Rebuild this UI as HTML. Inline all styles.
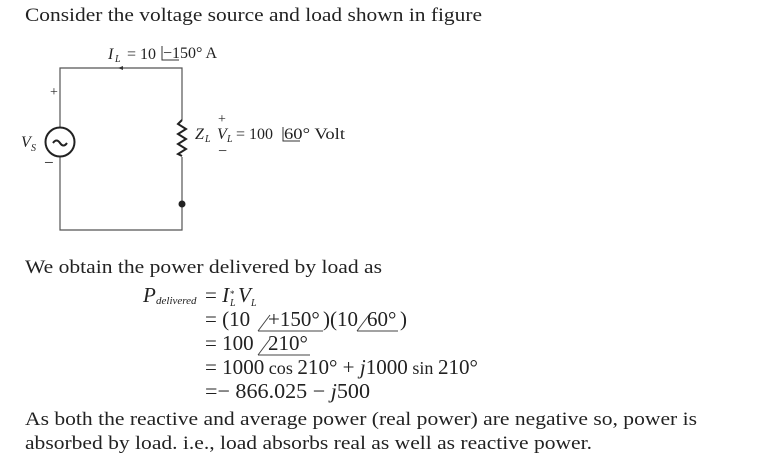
<!DOCTYPE html>
<html><head><meta charset="utf-8"><style>
body{margin:0;background:#fff;width:760px;height:460px;overflow:hidden}
svg{display:block}
text{font-family:"Liberation Serif",serif;fill:#222}
</style></head><body>
<svg width="760" height="460" viewBox="0 0 760 460">
<text x="25" y="21" font-size="19" textLength="457" lengthAdjust="spacingAndGlyphs">Consider the voltage source and load shown in figure</text>
<!-- circuit -->
<g stroke="#555" stroke-width="1.2" fill="none">
<path d="M60 127 V68 H182 V120 M182 157 V230 H60 V157"/>
<circle cx="60" cy="142" r="14.5" stroke="#222" stroke-width="2"/>
<path d="M182 120 l-4 4 l8 5 l-8 5 l8 5 l-8 5 l8 5 l-8 5 l4 2" stroke="#222" stroke-width="2"/>
</g>
<path d="M53 143 q3.5 -5 7 0 t7 0" stroke="#222" stroke-width="2" fill="none"/>
<circle cx="182" cy="204" r="3.5" fill="#222"/>
<path d="M118 68 l5 -2 v4z" fill="#333"/>
<text x="108" y="59" font-size="16" font-style="italic">I</text><text x="115" y="62" font-size="10" font-style="italic">L</text>
<text x="127" y="59" font-size="16">= 10</text>
<path d="M162 46 v14 h17" stroke="#333" fill="none"/>
<text x="163" y="58" font-size="16">−150° A</text>
<text x="50" y="96" font-size="14">+</text>
<text x="21" y="147" font-size="16" font-style="italic">V</text><text x="31" y="151" font-size="10" font-style="italic">S</text>
<text x="44" y="168" font-size="17">−</text>
<text x="218" y="123" font-size="14">+</text>
<text x="195" y="139" font-size="16" font-style="italic">Z</text><text x="205" y="142" font-size="10" font-style="italic">L</text>
<text x="217" y="139" font-size="16" font-style="italic">V</text><text x="227" y="142" font-size="10" font-style="italic">L</text>
<text x="236" y="139" font-size="16">= 100</text>
<path d="M283 127 v14 h17" stroke="#333" fill="none"/>
<text x="284" y="139" font-size="16" textLength="61" lengthAdjust="spacingAndGlyphs">60° Volt</text>
<text x="218" y="156" font-size="16">−</text>
<text x="25" y="273" font-size="19" textLength="357" lengthAdjust="spacingAndGlyphs">We obtain the power delivered by load as</text>
<!-- equations -->
<text x="143" y="302" font-size="21" font-style="italic">P</text>
<text x="156" y="304" font-size="11" font-style="italic">delivered</text>
<text x="205" y="302" font-size="21">= <tspan font-style="italic">I</tspan></text>
<text x="230" y="297" font-size="9">*</text><text x="230" y="306" font-size="10" font-style="italic">L</text>
<text x="238" y="302" font-size="21" font-style="italic">V</text><text x="251" y="306" font-size="10" font-style="italic">L</text>
<path d="M258 331 l12 -16 M258 331 h65 M357 331 l12 -16 M357 331 h41 M258 355 l12 -16 M258 355 h52" stroke="#444" fill="none"/>
<text y="326" font-size="21"><tspan x="205">= (10</tspan><tspan x="268">+150°</tspan><tspan x="323">)(10</tspan><tspan x="367">60°</tspan><tspan x="400">)</tspan></text>
<text y="350" font-size="21"><tspan x="205">= 100</tspan><tspan x="268">210°</tspan></text>
<text x="205" y="374" font-size="21" textLength="273" lengthAdjust="spacingAndGlyphs">= 1000<tspan font-size="18"> cos </tspan>210° + <tspan font-style="italic">j</tspan>1000<tspan font-size="18"> sin </tspan>210°</text>
<text x="205" y="398" font-size="21" textLength="165" lengthAdjust="spacingAndGlyphs">=− 866.025 − <tspan font-style="italic">j</tspan>500</text>
<text x="25" y="425" font-size="19" textLength="672" lengthAdjust="spacingAndGlyphs">As both the reactive and average power (real power) are negative so, power is</text>
<text x="25" y="449" font-size="19" textLength="567" lengthAdjust="spacingAndGlyphs">absorbed by load. i.e., load absorbs real as well as reactive power.</text>
</svg>
</body></html>
